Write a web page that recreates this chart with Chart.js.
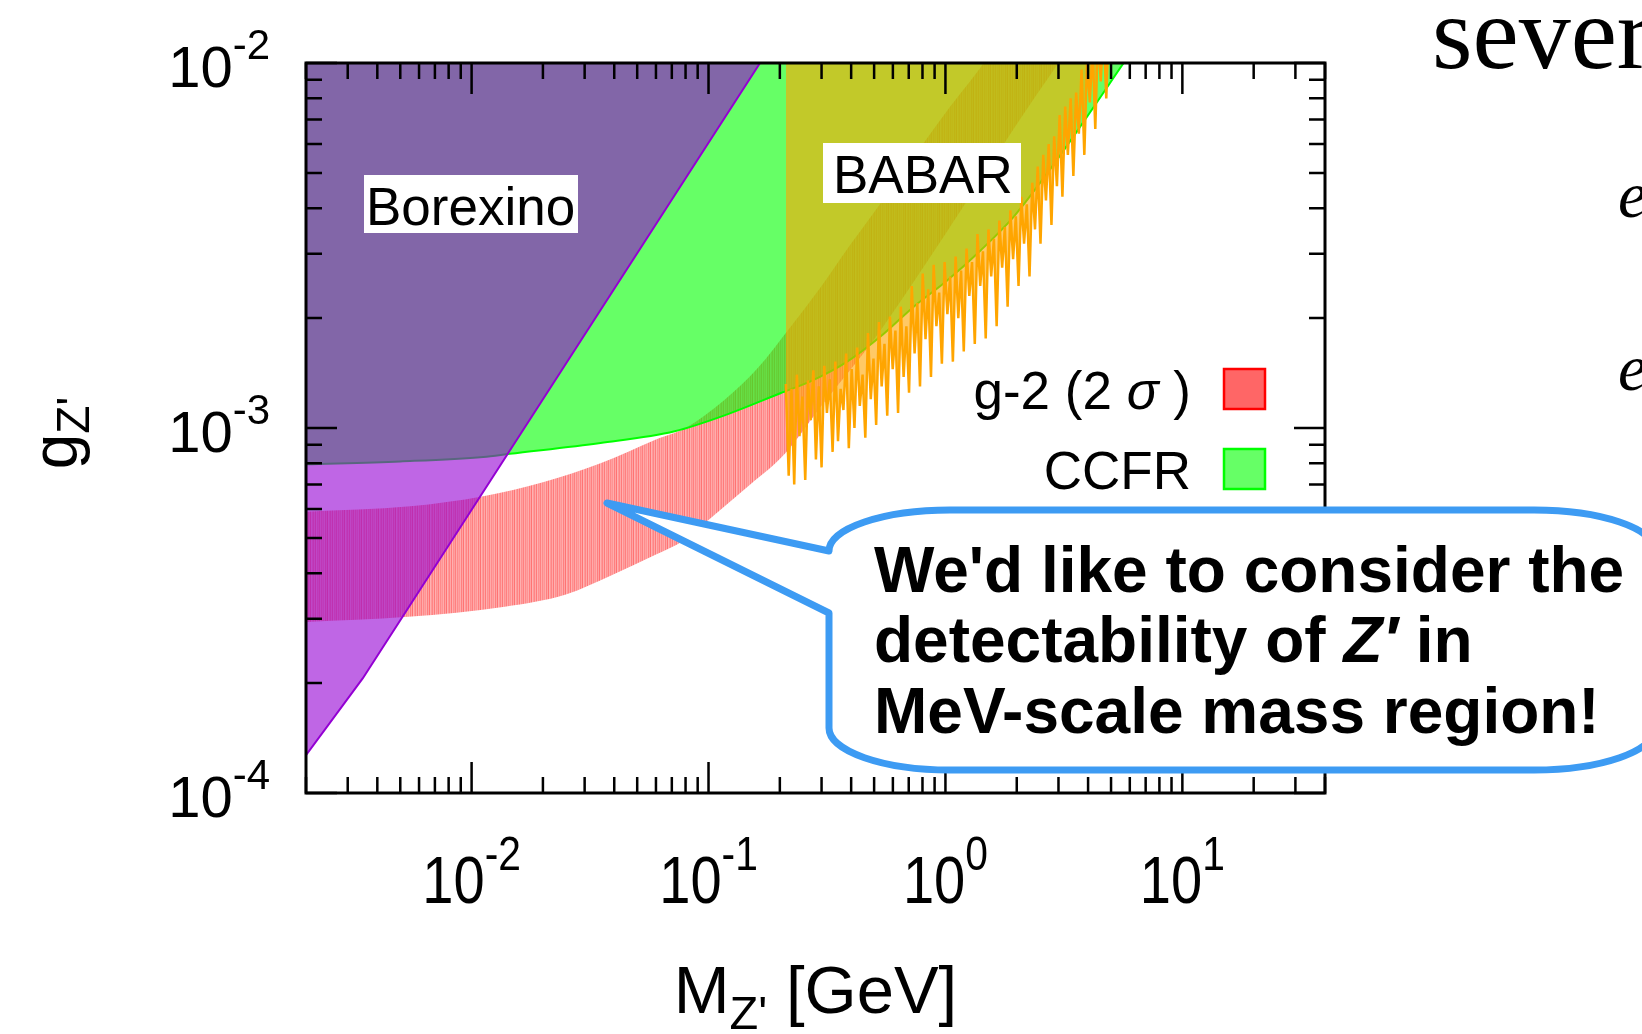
<!DOCTYPE html>
<html>
<head>
<meta charset="utf-8">
<script src="https://cdn.jsdelivr.net/npm/chart.js@4.4.1/dist/chart.umd.min.js"></script>
<style>
  html, body { margin: 0; padding: 0; background: #fff; }
  #wrap { width: 1642px; height: 1034px; }
</style>
</head>
<body>
<div id="wrap"><canvas id="chart" width="1642" height="1034"></canvas></div>
<script>
// axis ticks
const xTickValues = [0.01, 0.1, 1, 10];
const xTickLabels = [["10", "-2"], ["10", "-1"], ["10", "0"], ["10", "1"]];
const yTickValues = [1e-4, 1e-3, 1e-2];
const yTickLabels = [["10", "-4"], ["10", "-3"], ["10", "-2"]];

// Borexino exclusion (lower edge, filled upward)
const borexinoMass = [0.002, 0.00347, 0.165];
const borexinoCoupling = [1.27e-4, 2.06e-4, 1.0e-2];

// CCFR exclusion (lower edge, filled upward)
const ccfrMass = [0.002, 0.005, 0.0112, 0.0145, 0.035, 0.072, 0.12, 0.201, 0.278, 0.385, 0.532, 0.735, 1.02, 1.41, 1.94, 2.69, 3.71, 5.65];
const ccfrCoupling = [7.95e-4, 8.1e-4, 8.33e-4, 8.5e-4, 9.1e-4, 9.8e-4, 1.09e-3, 1.245e-3, 1.355e-3, 1.52e-3, 1.78e-3, 2.15e-3, 2.54e-3, 3.07e-3, 3.79e-3, 4.99e-3, 6.7e-3, 1.0e-2];

// g-2 (2 sigma) band
const g2UpperMass = [0.002, 0.0055, 0.0112, 0.02, 0.035, 0.06, 0.08, 0.116, 0.16, 0.223, 0.3, 0.4, 0.55, 0.7, 1.0, 1.45, 2.0, 3.0];
const g2UpperCoupling = [5.9e-4, 6.1e-4, 6.5e-4, 7.1e-4, 8.0e-4, 9.3e-4, 1.0e-3, 1.19e-3, 1.45e-3, 1.9e-3, 2.45e-3, 3.2e-3, 4.25e-3, 5.3e-3, 7.3e-3, 1.0e-2, 1.38e-2, 2.05e-2];
const g2LowerMass = [0.002, 0.0054, 0.0138, 0.025, 0.039, 0.06, 0.078, 0.1, 0.15, 0.21, 0.3, 0.5, 0.7, 1.0, 1.5, 2.0, 3.0];
const g2LowerCoupling = [2.94e-4, 3.04e-4, 3.24e-4, 3.5e-4, 3.95e-4, 4.5e-4, 4.9e-4, 5.6e-4, 7.0e-4, 8.5e-4, 1.15e-3, 1.75e-3, 2.4e-3, 3.4e-3, 5.1e-3, 6.8e-3, 1.0e-2];

// BABAR exclusion (jagged lower edge, filled upward)
const babarMass = [0.212, 0.218, 0.224, 0.230, 0.236, 0.242, 0.249, 0.256, 0.263, 0.270,
  0.277, 0.284, 0.292, 0.300, 0.308, 0.316, 0.325, 0.334, 0.343, 0.352,
  0.361, 0.371, 0.381, 0.391, 0.402, 0.413, 0.424, 0.435, 0.447, 0.459,
  0.471, 0.484, 0.497, 0.510, 0.524, 0.538, 0.553, 0.568, 0.583, 0.599,
  0.615, 0.631, 0.648, 0.666, 0.684, 0.702, 0.721, 0.741, 0.761, 0.781,
  0.802, 0.824, 0.846, 0.869, 0.892, 0.916, 0.941, 0.966, 0.992, 1.019,
  1.047, 1.075, 1.104, 1.133, 1.164, 1.195, 1.228, 1.261, 1.295, 1.330,
  1.365, 1.402, 1.440, 1.479, 1.519, 1.560, 1.602, 1.645, 1.689, 1.735,
  1.782, 1.830, 1.879, 1.930, 1.982, 2.035, 2.090, 2.147, 2.205, 2.264,
  2.325, 2.388, 2.452, 2.519, 2.587, 2.656, 2.728, 2.802, 2.877, 2.955,
  3.035, 3.117, 3.201, 3.287, 3.376, 3.467, 3.561, 3.657, 3.755, 3.857,
  3.961, 4.068, 4.178, 4.290, 4.406, 4.525, 4.647, 4.773, 4.901, 5.034];
const babarCoupling = [1.32e-3, 0.74e-3, 1.28e-3, 0.70e-3, 1.40e-3, 0.95e-3, 1.22e-3, 0.72e-3, 1.35e-3, 1.05e-3,
  1.44e-3, 0.82e-3, 1.30e-3, 0.78e-3, 1.48e-3, 1.10e-3, 1.36e-3, 0.86e-3, 1.52e-3, 0.92e-3,
  1.28e-3, 1.12e-3, 1.60e-3, 0.88e-3, 1.45e-3, 1.00e-3, 1.66e-3, 1.15e-3, 1.40e-3, 0.94e-3,
  1.82e-3, 1.20e-3, 1.55e-3, 1.02e-3, 1.95e-3, 1.30e-3, 1.70e-3, 1.08e-3, 2.02e-3, 1.45e-3,
  1.85e-3, 1.10e-3, 2.15e-3, 1.38e-3, 1.90e-3, 1.25e-3, 2.45e-3, 1.60e-3, 2.20e-3, 1.30e-3,
  2.65e-3, 1.75e-3, 2.40e-3, 1.38e-3, 2.80e-3, 1.90e-3, 2.35e-3, 1.50e-3, 2.85e-3, 2.05e-3,
  2.60e-3, 1.52e-3, 2.95e-3, 2.00e-3, 2.70e-3, 1.62e-3, 3.10e-3, 2.30e-3, 2.85e-3, 1.70e-3,
  3.40e-3, 2.45e-3, 3.05e-3, 1.76e-3, 3.50e-3, 2.60e-3, 3.30e-3, 1.90e-3, 3.70e-3, 2.75e-3,
  3.55e-3, 2.15e-3, 3.95e-3, 2.90e-3, 3.80e-3, 2.45e-3, 4.30e-3, 3.20e-3, 4.10e-3, 2.60e-3,
  4.70e-3, 3.50e-3, 5.20e-3, 3.20e-3, 5.60e-3, 4.20e-3, 6.00e-3, 3.60e-3, 6.30e-3, 4.60e-3,
  7.20e-3, 4.30e-3, 7.60e-3, 5.60e-3, 8.00e-3, 4.90e-3, 8.30e-3, 6.40e-3, 9.60e-3, 5.60e-3,
  10.2e-3, 7.80e-3, 11.0e-3, 6.60e-3, 12.0e-3, 8.90e-3, 12.5e-3, 8.00e-3, 13.0e-3, 11.0e-3];

const SANS = '"Liberation Sans", Arial, sans-serif';
const SERIF = '"Liberation Serif", "Times New Roman", serif';

function pts(xs, ys) {
  return xs.map((v, i) => ({ x: v, y: ys[i] }));
}

// vertical streaks like the hatched g-2 band
function streakPattern() {
  const p = document.createElement('canvas');
  p.width = 17; p.height = 4;
  const c = p.getContext('2d');
  const a = [0.42, 0.32, 0.5, 0.36, 0.55, 0.3, 0.4, 0.48, 0.34, 0.52, 0.31, 0.44, 0.38, 0.5, 0.33, 0.46, 0.37];
  a.forEach((v, i) => { c.fillStyle = 'rgba(255,0,0,' + v + ')'; c.fillRect(i, 0, 1, 4); });
  return c.createPattern(p, 'repeat');
}

function powText(ctx, base, exp, x, y, align, bSize, eSize, rise, sx) {
  ctx.font = bSize + 'px ' + SANS;
  const wb = ctx.measureText(base).width;
  ctx.font = eSize + 'px ' + SANS;
  const we = ctx.measureText(exp).width;
  const total = (wb + we) * sx;
  const left = align === 'right' ? x - total : (align === 'center' ? x - total / 2 : x);
  ctx.save();
  ctx.translate(left, y);
  ctx.scale(sx, 1);
  ctx.textAlign = 'left';
  ctx.textBaseline = 'alphabetic';
  ctx.font = bSize + 'px ' + SANS;
  ctx.fillText(base, 0, 0);
  ctx.font = eSize + 'px ' + SANS;
  ctx.fillText(exp, wb, -rise);
  ctx.restore();
}

function boxedLabel(ctx, text, x, baseline, size, box) {
  ctx.fillStyle = '#fff';
  ctx.fillRect(box[0], box[1], box[2] - box[0], box[3] - box[1]);
  ctx.fillStyle = '#000';
  ctx.font = size + 'px ' + SANS;
  ctx.textAlign = 'left';
  ctx.fillText(text, x, baseline);
}

const overlay = {
  id: 'overlay',
  afterDatasetsDraw(chart) {
    const { ctx, chartArea: a, scales: { x, y } } = chart;
    ctx.save();
    ctx.textBaseline = 'alphabetic';

    // region labels
    boxedLabel(ctx, 'Borexino', 366, 225, 53, [364, 175, 578, 233]);
    boxedLabel(ctx, 'BABAR', 833, 193, 53, [823, 143, 1021, 203]);

    // ticks, gnuplot style (inward, all four sides)
    ctx.strokeStyle = '#000';
    ctx.lineWidth = 2.5;
    ctx.beginPath();
    for (let e = -3; e <= 1; e++) {
      for (let k = 1; k <= 9; k++) {
        const v = k * Math.pow(10, e);
        if (v < x.min || v > x.max) continue;
        const px = x.getPixelForValue(v);
        const len = k === 1 ? 31 : 16;
        ctx.moveTo(px, a.bottom); ctx.lineTo(px, a.bottom - len);
        ctx.moveTo(px, a.top); ctx.lineTo(px, a.top + len);
      }
    }
    for (let e = -4; e <= -2; e++) {
      for (let k = 1; k <= 9; k++) {
        const v = k * Math.pow(10, e);
        if (v < y.min * 0.999 || v > y.max * 1.001) continue;
        const py = y.getPixelForValue(v);
        const len = k === 1 ? 31 : 16;
        ctx.moveTo(a.left, py); ctx.lineTo(a.left + len, py);
        ctx.moveTo(a.right, py); ctx.lineTo(a.right - len, py);
      }
    }
    ctx.stroke();
    ctx.lineWidth = 3;
    ctx.strokeRect(a.left, a.top, a.right - a.left, a.bottom - a.top);

    // tick labels
    ctx.fillStyle = '#000';
    xTickValues.forEach((v, i) => {
      powText(ctx, xTickLabels[i][0], xTickLabels[i][1], x.getPixelForValue(v), 903, 'center', 66, 48, 33, 0.85);
    });
    yTickValues.forEach((v, i) => {
      powText(ctx, yTickLabels[i][0], yTickLabels[i][1], 270, y.getPixelForValue(v) + 24, 'right', 58, 42, 28, 1);
    });

    // axis titles
    ctx.font = '67px ' + SANS;
    const wM = ctx.measureText('M').width;
    const wRest = ctx.measureText(' [GeV]').width;
    ctx.font = '47px ' + SANS;
    const wSub = ctx.measureText("Z'").width;
    let tx = (a.left + a.right) / 2 - (wM + wSub + wRest) / 2;
    ctx.textAlign = 'left';
    ctx.font = '67px ' + SANS;
    ctx.fillText('M', tx, 1013);
    ctx.font = '47px ' + SANS;
    ctx.fillText("Z'", tx + wM, 1029);
    ctx.font = '67px ' + SANS;
    ctx.fillText(' [GeV]', tx + wM + wSub, 1013);

    ctx.save();
    ctx.translate(77, 433);
    ctx.rotate(-Math.PI / 2);
    ctx.font = '64px ' + SANS;
    const wg = ctx.measureText('g').width;
    ctx.font = '46px ' + SANS;
    const wz = ctx.measureText("Z'").width;
    const gx = -(wg + wz) / 2;
    ctx.font = '64px ' + SANS;
    ctx.fillText('g', gx, 0);
    ctx.font = '46px ' + SANS;
    ctx.fillText("Z'", gx + wg, 12);
    ctx.restore();

    // legend
    ctx.textAlign = 'right';
    ctx.font = '53px ' + SANS;
    const close = ' )';
    const wClose = ctx.measureText(close).width;
    ctx.font = 'italic 53px ' + SANS;
    const wSig = ctx.measureText('\u03c3').width;
    ctx.fillText('\u03c3', 1191 - wClose, 409);
    ctx.font = '53px ' + SANS;
    ctx.fillText(close, 1191, 409);
    ctx.fillText('g-2 (2 ', 1191 - wClose - wSig, 409);
    ctx.fillText('CCFR', 1191, 489);
    ctx.lineWidth = 2.5;
    ctx.fillStyle = '#ff6666'; ctx.strokeStyle = '#ff0000';
    ctx.fillRect(1224, 369, 41, 40); ctx.strokeRect(1224, 369, 41, 40);
    ctx.fillStyle = '#66ff66'; ctx.strokeStyle = '#00ff00';
    ctx.fillRect(1224, 449, 41, 40); ctx.strokeRect(1224, 449, 41, 40);

    // callout bubble
    ctx.beginPath();
    ctx.moveTo(607, 503);
    ctx.lineTo(829, 551);
    ctx.ellipse(950, 551, 121, 41, 0, Math.PI, 1.5 * Math.PI);
    ctx.lineTo(1534, 510);
    ctx.ellipse(1534, 551, 121, 41, 0, 1.5 * Math.PI, 2 * Math.PI);
    ctx.lineTo(1655, 728);
    ctx.ellipse(1534, 728, 121, 42, 0, 0, 0.5 * Math.PI);
    ctx.lineTo(950, 770);
    ctx.ellipse(950, 728, 121, 42, 0, 0.5 * Math.PI, Math.PI);
    ctx.lineTo(829, 613);
    ctx.closePath();
    ctx.fillStyle = '#fff';
    ctx.fill();
    ctx.lineWidth = 7;
    ctx.lineJoin = 'round';
    ctx.strokeStyle = 'rgb(61,155,243)';
    ctx.stroke();

    ctx.fillStyle = '#000';
    ctx.textAlign = 'left';
    ctx.font = 'bold 64px ' + SANS;
    ctx.fillText("We'd like to consider the", 874, 592);
    const l2a = 'detectability of ';
    ctx.fillText(l2a, 874, 662);
    let lx = 874 + ctx.measureText(l2a).width;
    ctx.font = 'italic bold 64px ' + SANS;
    ctx.fillText('Z\u2032', lx, 662);
    lx += ctx.measureText('Z\u2032').width;
    ctx.font = 'bold 64px ' + SANS;
    ctx.fillText(' in', lx, 662);
    ctx.fillText('MeV-scale mass region!', 874, 733);

    // surrounding slide text
    ctx.font = '104px ' + SERIF;
    ctx.fillText('several', 1432, 68);
    ctx.font = 'italic 66px ' + SERIF;
    ctx.fillText('e', 1618, 217);
    ctx.fillText('e', 1618, 390);

    ctx.restore();
  }
};

const ctxEl = document.getElementById('chart');
new Chart(ctxEl, {
  type: 'line',
  data: {
    datasets: [
      {
        label: 'Borexino',
        data: pts(borexinoMass, borexinoCoupling),
        borderColor: '#9400d3',
        borderWidth: 2,
        backgroundColor: 'rgba(148,0,211,0.6)',
        fill: 'end',
        order: 1,
        clip: 0
      },
      {
        label: 'BABAR',
        data: pts(babarMass, babarCoupling),
        borderColor: '#ffa500',
        borderWidth: 2.5,
        backgroundColor: 'rgba(255,165,0,0.6)',
        fill: 'end',
        order: 2,
        clip: 0
      },
      {
        label: 'CCFR',
        data: pts(ccfrMass, ccfrCoupling),
        borderColor: '#00ff00',
        borderWidth: 2,
        backgroundColor: 'rgba(0,255,0,0.6)',
        fill: 'end',
        cubicInterpolationMode: 'monotone',
        order: 3,
        clip: 0
      },
      {
        label: 'g-2 (2 sigma)',
        data: pts(g2UpperMass, g2UpperCoupling),
        borderWidth: 0,
        borderColor: 'rgba(0,0,0,0)',
        backgroundColor: streakPattern(),
        fill: '+1',
        cubicInterpolationMode: 'monotone',
        order: 4,
        clip: 0
      },
      {
        label: 'g-2 lower',
        data: pts(g2LowerMass, g2LowerCoupling),
        borderWidth: 0,
        borderColor: 'rgba(0,0,0,0)',
        fill: false,
        cubicInterpolationMode: 'monotone',
        order: 5,
        clip: 0
      }
    ]
  },
  options: {
    responsive: false,
    animation: false,
    devicePixelRatio: 1,
    layout: { padding: { left: 306, right: 317, top: 63, bottom: 241 } },
    elements: { point: { radius: 0, hoverRadius: 0 }, line: { tension: 0 } },
    scales: {
      x: { type: 'logarithmic', min: 0.002, max: 40, display: false },
      y: { type: 'logarithmic', min: 1e-4, max: 1e-2, display: false }
    },
    plugins: {
      legend: { display: false },
      tooltip: { enabled: false }
    }
  },
  plugins: [overlay]
});
</script>
</body>
</html>
